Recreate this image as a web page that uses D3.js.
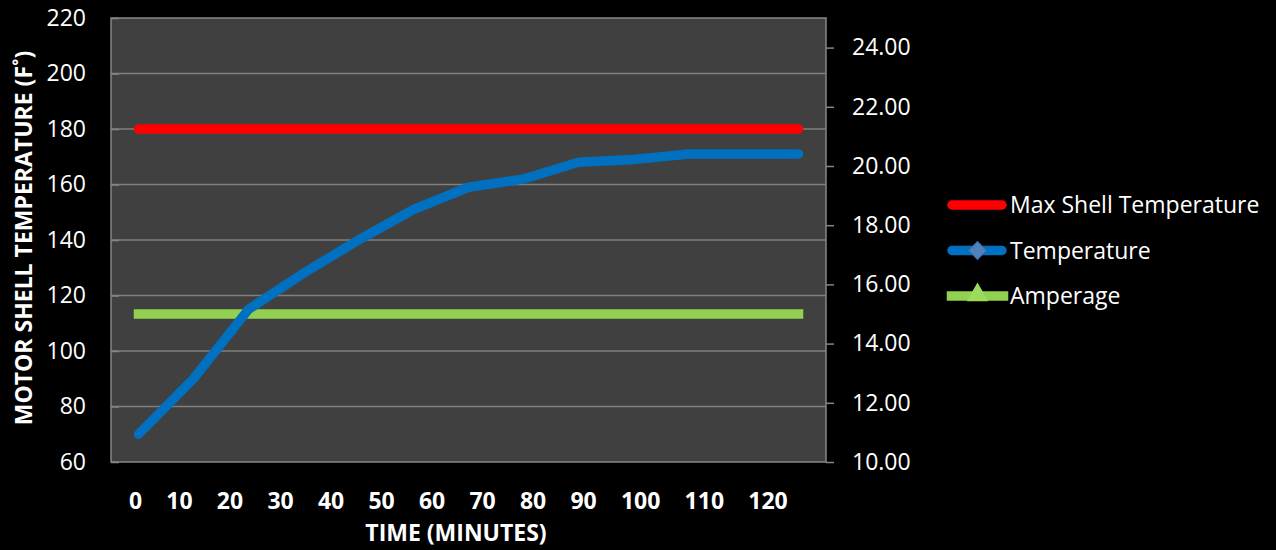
<!DOCTYPE html>
<html>
<head>
<meta charset="utf-8">
<script src="https://cdn.jsdelivr.net/npm/d3@7"></script>
<style>
  html, body { margin: 0; padding: 0; background: #000; }
  svg { display: block; }
</style>
</head>
<body>
<div id="chart"></div>
<script>
const times = [0, 10, 20, 30, 40, 50, 60, 70, 80, 90, 100, 110, 120];
const temperature = [70, 90, 115, 128, 140, 151, 159, 162, 168, 169, 171, 171, 171];
const maxShell = [180, 180, 180, 180, 180, 180, 180, 180, 180, 180, 180, 180, 180];
const amperage = [15, 15, 15, 15, 15, 15, 15, 15, 15, 15, 15, 15, 15];

const xLabels = ["0", "10", "20", "30", "40", "50", "60", "70", "80", "90", "100", "110", "120"];
const leftTicks = [60, 80, 100, 120, 140, 160, 180, 200, 220];
const rightTicks = [10, 12, 14, 16, 18, 20, 22, 24];

const legendItems = ["Max Shell Temperature", "Temperature", "Amperage"];

const width = 1276,
  height = 550;
const plot = { left: 111, right: 826, top: 18, bottom: 462 };
const font = "'Open Sans', 'Noto Sans', sans-serif";

const svg = d3.select("#chart")
  .append("svg")
  .attr("width", width)
  .attr("height", height)
  .style("background", "#000");

// scales: category axis (points at band centres), two value axes
const x = d3.scaleBand().domain(times).range([plot.left, plot.right]);
const cx = t => x(t) + x.bandwidth() / 2;
const yLeft = d3.scaleLinear().domain([60, 220]).range([plot.bottom, plot.top]);
const yRight = d3.scaleLinear().domain([10, 25]).range([plot.bottom, plot.top]);

// plot background
svg.append("rect")
  .attr("x", plot.left)
  .attr("y", plot.top)
  .attr("width", plot.right - plot.left)
  .attr("height", plot.bottom - plot.top)
  .attr("fill", "#404040");

// gridlines
svg.append("g")
  .selectAll("line")
  .data(leftTicks.slice(1, -1))
  .join("line")
  .attr("x1", plot.left)
  .attr("x2", plot.right)
  .attr("y1", d => yLeft(d))
  .attr("y2", d => yLeft(d))
  .attr("stroke", "#7f7f7f")
  .attr("stroke-width", 1.5);

// plot border
svg.append("rect")
  .attr("x", plot.left)
  .attr("y", plot.top)
  .attr("width", plot.right - plot.left)
  .attr("height", plot.bottom - plot.top)
  .attr("fill", "none")
  .attr("stroke", "#868686")
  .attr("stroke-width", 1.5);

// left axis
const gLeft = svg.append("g")
  .attr("transform", `translate(${plot.left},0)`)
  .call(d3.axisLeft(yLeft).tickValues(leftTicks).tickSizeInner(-8).tickSizeOuter(0).tickPadding(25));
gLeft.select(".domain").remove();
gLeft.selectAll(".tick line").attr("stroke", "#868686").attr("stroke-width", 1.5);
gLeft.selectAll(".tick text")
  .attr("fill", "#fff")
  .attr("font-family", font)
  .attr("font-size", 23);

// right axis
const gRight = svg.append("g")
  .attr("transform", `translate(${plot.right},0)`)
  .call(d3.axisRight(yRight).tickValues(rightTicks).tickFormat(d3.format(".2f"))
    .tickSizeInner(8).tickSizeOuter(0).tickPadding(18));
gRight.select(".domain").remove();
gRight.selectAll(".tick line").attr("stroke", "#868686").attr("stroke-width", 1.5);
gRight.selectAll(".tick text")
  .attr("fill", "#fff")
  .attr("font-family", font)
  .attr("font-size", 23);

// x labels, laid out as a run of text
const xText = svg.append("text")
  .attr("x", 129)
  .attr("y", 501)
  .attr("dy", "0.35em")
  .attr("fill", "#fff")
  .attr("font-family", font)
  .attr("font-size", 23)
  .attr("font-weight", "bold");
xText.selectAll("tspan")
  .data(xLabels)
  .join("tspan")
  .attr("dx", (d, i) => i ? 24.2 : 0)
  .text(d => d);

// axis titles
svg.append("text")
  .attr("x", 456)
  .attr("y", 533)
  .attr("dy", "0.35em")
  .attr("text-anchor", "middle")
  .attr("fill", "#fff")
  .attr("font-family", font)
  .attr("font-size", 23)
  .attr("font-weight", "bold")
  .text("TIME (MINUTES)");

svg.append("text")
  .attr("transform", "translate(24,238) rotate(-90)")
  .attr("dy", "0.35em")
  .attr("text-anchor", "middle")
  .attr("fill", "#fff")
  .attr("font-family", font)
  .attr("font-size", 23)
  .attr("font-weight", "bold")
  .text("MOTOR SHELL TEMPERATURE (F˚)");

// series lines
const lineLeft = d3.line().x((d, i) => cx(times[i])).y(d => yLeft(d));
const lineRight = d3.line().x((d, i) => cx(times[i])).y(d => yRight(d));

svg.append("path")
  .attr("d", lineRight(amperage))
  .attr("fill", "none")
  .attr("stroke", "#92d050")
  .attr("stroke-width", 9.5)
  .attr("stroke-linecap", "square");

svg.append("path")
  .attr("d", lineLeft(maxShell))
  .attr("fill", "none")
  .attr("stroke", "#ff0000")
  .attr("stroke-width", 9.5)
  .attr("stroke-linecap", "round");

svg.append("path")
  .attr("d", lineLeft(temperature))
  .attr("fill", "none")
  .attr("stroke", "#0070c0")
  .attr("stroke-width", 9.5)
  .attr("stroke-linecap", "round")
  .attr("stroke-linejoin", "round");

// legend
const legendColors = ["#ff0000", "#0070c0", "#92d050"];
const legend = svg.append("g")
  .selectAll("g")
  .data(legendItems)
  .join("g")
  .attr("transform", (d, i) => `translate(947,${205 + i * 45.5})`);

legend.append("line")
  .attr("x1", (d, i) => i === 2 ? 4.5 : 5)
  .attr("x2", (d, i) => i === 2 ? 56.5 : 55)
  .attr("stroke", (d, i) => legendColors[i])
  .attr("stroke-width", 9.5)
  .attr("stroke-linecap", (d, i) => i === 2 ? "square" : "round");

legend.filter((d, i) => i === 1)
  .append("path")
  .attr("d", d3.symbol(d3.symbolSquare, 160)())
  .attr("transform", "translate(30.5,0) rotate(45)")
  .attr("fill", "#4f81bd")
  .attr("stroke", "#3a6ea8")
  .attr("stroke-width", 1);

legend.filter((d, i) => i === 2)
  .append("path")
  .attr("d", d3.symbol(d3.symbolTriangle, 200)())
  .attr("transform", "translate(30.5,-1)")
  .attr("fill", "#9bdc5c");

legend.append("text")
  .attr("x", 63)
  .attr("dy", "0.35em")
  .attr("fill", "#fff")
  .attr("font-family", font)
  .attr("font-size", 23)
  .text(d => d);
</script>
</body>
</html>
